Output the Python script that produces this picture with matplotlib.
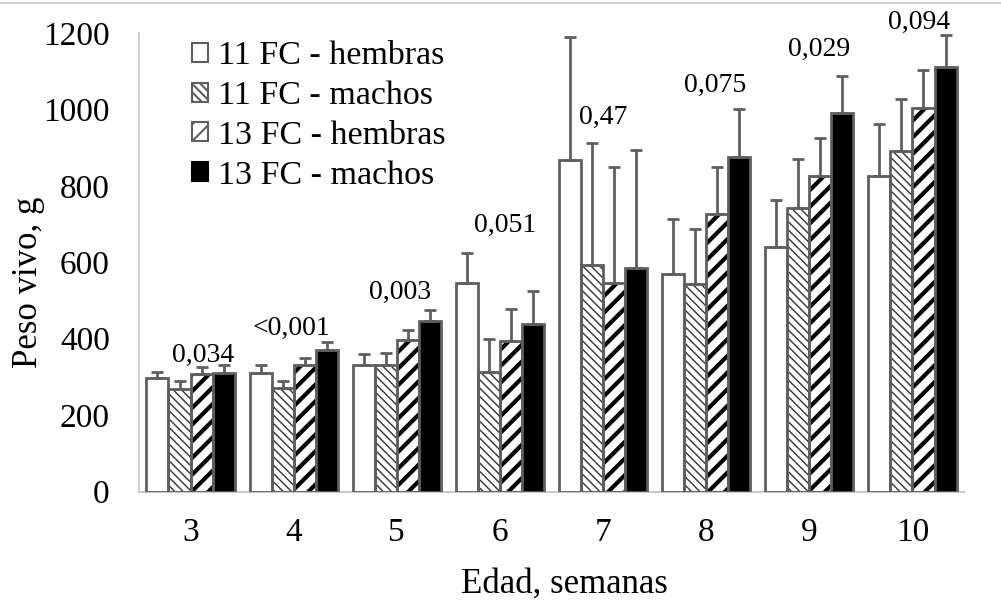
import matplotlib
matplotlib.use("Agg")
import matplotlib.pyplot as plt
from matplotlib.patches import Patch
import numpy as np

plt.rcParams['font.family'] = ['Liberation Serif', 'DejaVu Serif']

weeks = ['3', '4', '5', '6', '7', '8', '9', '10']
series_names = ['11 FC - hembras', '11 FC - machos', '13 FC - hembras', '13 FC - machos']
fc11_hembras = [297, 311, 330, 545, 867, 570, 640, 826]
fc11_machos = [267, 271, 330, 313, 592, 544, 742, 892]
fc13_hembras = [308, 332, 396, 394, 547, 727, 826, 1003]
fc13_machos = [311, 370, 446, 439, 586, 876, 991, 1112]
err11_hembras = [15, 19, 29, 78, 322, 143, 122, 137]
err11_machos = [21, 18, 32, 85, 319, 144, 127, 135]
err13_hembras = [17, 17, 26, 83, 303, 123, 100, 100]
err13_machos = [21, 20, 28, 85, 309, 124, 97, 84]
p_values = ['0,034', '<0,001', '0,003', '0,051', '0,47', '0,075', '0,029', '0,094']

values = [fc11_hembras, fc11_machos, fc13_hembras, fc13_machos]
errors = [err11_hembras, err11_machos, err13_hembras, err13_machos]

# layout of the p-value labels (data coordinates of label centres)
label_dx = [0.12, -0.02, 0.03, 0.05, 0.0, 0.09, 0.1, 0.06]
label_y = [357, 428, 520, 697, 980, 1064, 1156, 1229]

fig = plt.figure(figsize=(10.01, 6.01), dpi=100)
ax = fig.add_axes([139/1001, (601-491.5)/601, (964-139)/1001, (491.5-33)/601])

x = np.arange(len(weeks))
w = 0.214
edge = '#5f5f5f'
styles = [
    dict(face='white', hatch=None, hcol=None, hlw=1.0),
    dict(face='white', hatch='\\\\\\\\', hcol='#333333', hlw=1.0),
    dict(face='white', hatch='//', hcol='black', hlw=3.0),
    dict(face='black', hatch=None, hcol=None, hlw=1.0),
]

for i, (vals, errs, st) in enumerate(zip(values, errors, styles)):
    pos = x + (i - 1.5) * w
    if st['hatch']:
        plt.rcParams['hatch.linewidth'] = st['hlw']
        ax.bar(pos, vals, w, color=st['face'], edgecolor=st['hcol'],
               hatch=st['hatch'], linewidth=0, zorder=2)
    ax.bar(pos, vals, w, color='none' if st['hatch'] else st['face'],
           edgecolor=edge, linewidth=2.0, zorder=3)
    ax.errorbar(pos, vals, yerr=[np.zeros(len(vals)), errs], fmt='none',
                ecolor=edge, elinewidth=2.0, capsize=4, capthick=2.0, zorder=4)

for xi, lab in enumerate(p_values):
    ax.text(xi + label_dx[xi], label_y[xi], lab, ha='center', va='center', fontsize=20)

ax.set_xlim(-0.5, len(weeks) - 0.5)
ax.set_ylim(0, 1200)
ax.set_yticks(range(0, 1201, 200))
ax.set_xticks(x)
ax.set_xticklabels(weeks)
ax.tick_params(axis='both', length=0, labelsize=24)
ax.tick_params(axis='y', pad=21)
ax.tick_params(axis='x', pad=19)
for s in ['top', 'right']:
    ax.spines[s].set_visible(False)
ax.spines['left'].set_color('#c8c8c8')
ax.spines['bottom'].set_color('#c8c8c8')
ax.spines['left'].set_linewidth(1.2)
ax.spines['bottom'].set_linewidth(1.5)

ax.set_ylabel('Peso vivo, g', fontsize=25)
ax.yaxis.set_label_coords(-0.114, 0.457)
ax.set_xlabel('Edad, semanas', fontsize=25)
ax.xaxis.label.set_va('baseline')
ax.xaxis.set_label_coords(0.516, -0.221)

leg_handles = []
for st, name in zip(styles, series_names):
    leg_handles.append(Patch(facecolor=st['face'],
                             edgecolor=edge if st['face'] == 'white' else 'black',
                             hatch=st['hatch'], linewidth=1.5, label=name))
plt.rcParams['hatch.linewidth'] = 1.5
ax.legend(handles=leg_handles, loc='upper left', bbox_to_anchor=(0.064, 0.983),
          frameon=False, fontsize=24.5, handlelength=0.48, handleheight=0.48,
          handletextpad=0.3, labelspacing=0.275, borderaxespad=0, borderpad=0)

fig.add_artist(plt.Line2D([0, 1], [1 - 3/601, 1 - 3/601], color='#d0d0d0', linewidth=1.5,
                          transform=fig.transFigure))

fig.savefig('out.png', dpi=100)
